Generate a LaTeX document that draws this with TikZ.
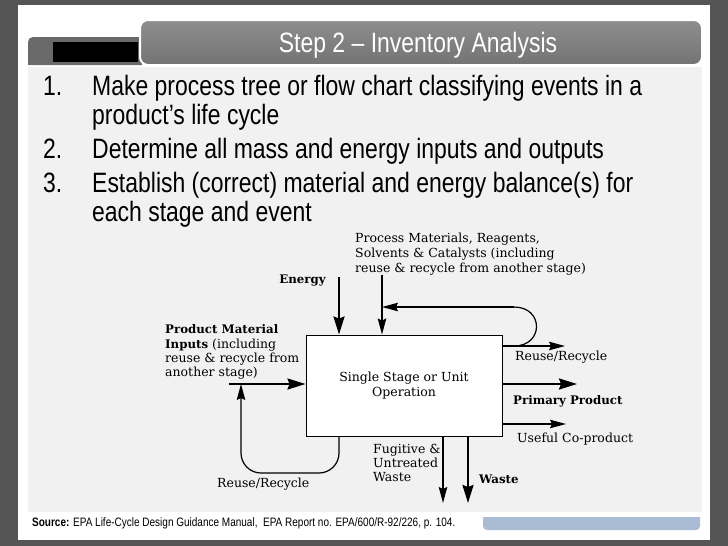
\documentclass[tikz,border=0pt]{standalone}
\usepackage{fontspec}
\setmainfont{DejaVu Serif}
\newfontfamily\narrowsans[FakeStretch=0.82]{Liberation Sans}
\usetikzlibrary{arrows.meta}
\definecolor{framegray}{HTML}{555555}
\definecolor{contentgray}{HTML}{F1F1F1}
\definecolor{barA}{HTML}{8E8E8E}
\definecolor{barB}{HTML}{737373}
\definecolor{tabgray}{HTML}{6A6A6A}
\definecolor{bluebar}{HTML}{A9BCD3}
\newcommand\dfont{\fontsize{12.5}{15}\selectfont}
\newcommand\bfont{\fontsize{11.8}{15}\selectfont\bfseries}
\newcommand\listfont{\narrowsans\fontsize{28}{30}\selectfont}
\tikzset{
  lbl/.style={font=\dfont, inner sep=0pt, anchor=base west},
  blbl/.style={font=\bfont, inner sep=0pt, anchor=base west},
  lstxt/.style={font=\listfont, inner sep=0pt, anchor=base west},
  thickarrow/.style={line width=2.2pt, -{Stealth[length=18pt,width=11pt,inset=2pt]}},
  thinarrow/.style={line width=1.2pt, -{Stealth[length=16pt,width=8.5pt,inset=2pt]}},
  thinline/.style={line width=1.2pt},
}
\begin{document}
\begin{tikzpicture}[x=1pt,y=-1pt]
\useasboundingbox (0,0) rectangle (728,546);
% background
\fill[framegray] (0,0) rectangle (728,546);
\fill[white] (18,5) rectangle (710,540);
\fill[contentgray] (28,67) rectangle (702,512);
\fill[tabgray] (142,65) -- (28,65) [rounded corners=5pt] -- (28,37) [sharp corners] -- (142,37) -- cycle;
\fill[black] (53,42) rectangle (138,62);
\draw[white, line width=2pt, top color=barA, bottom color=barB, rounded corners=8pt] (140,20) rectangle (702,65);
\node[font=\listfont, text=white, inner sep=0pt, anchor=base] (title) at (418,52) {Step 2 – Inventory Analysis};
% list
\node[lstxt] (n1) at (43,95) {1.};
\node[lstxt] (t1a) at (92,95) {Make process tree or flow chart classifying events in a};
\node[lstxt] (t1b) at (92,124) {product’s life cycle};
\node[lstxt] (n2) at (43,158) {2.};
\node[lstxt] (t2) at (92,158) {Determine all mass and energy inputs and outputs};
\node[lstxt] (n3) at (43,192) {3.};
\node[lstxt] (t3a) at (92,192) {Establish (correct) material and energy balance(s) for};
\node[lstxt] (t3b) at (92,221) {each stage and event};
% footer
\node[font=\narrowsans\fontsize{12.2}{13}\selectfont, inner sep=0pt, anchor=base west] (src) at (32,526) {\textbf{Source:} EPA Life-Cycle Design Guidance Manual,\ \ EPA Report no. EPA/600/R-92/226, p. 104.};
\fill[bluebar] (483,517) -- (700,517) [rounded corners=4pt] -- (700,530) -- (483,530) [sharp corners] -- cycle;
% diagram
\node[draw, line width=1pt, fill=white, minimum width=196pt, minimum height=101pt, inner sep=0pt, font=\dfont, align=center] (op) at (404,385.5) {Single Stage or Unit\\Operation};
\coordinate (eTop) at (339,277);
\coordinate (pTop) at (382,275);
\coordinate (rTop) at (514,307);
\coordinate (rBot) at (514,346);
\coordinate (rrEnd) at (565,346);
\coordinate (ppEnd) at (577,384);
\coordinate (cpEnd) at (566,424);
\coordinate (inStart) at (229,384);
\coordinate (lbR) at (339,473);
\coordinate (lbL) at (241,473);
\coordinate (fgEnd) at (443,503);
\coordinate (wsEnd) at (468,503);
\draw[thickarrow] (eTop) -- (eTop |- op.north);
\draw[thinarrow] (pTop) -- (pTop |- op.north);
\draw[thinarrow] (rTop) -- (pTop |- rTop);
\draw[thinline] (rTop) .. controls (544,307) and (544,346) .. (rBot);
\draw[thinarrow] (op.east |- rBot) -- (rrEnd);
\draw[thickarrow] (op.east |- ppEnd) -- (ppEnd);
\draw[thinarrow] (op.east |- cpEnd) -- (cpEnd);
\draw[thickarrow] (inStart) -- (op.west |- inStart);
\draw[thinarrow, rounded corners=20pt] (lbR |- op.south) -- (lbR) -- (lbL) -- (lbL |- inStart);
\draw[thinarrow] (fgEnd |- op.south) -- (fgEnd);
\draw[thickarrow] (wsEnd |- op.south) -- (wsEnd);
% labels
\node[lbl] (pm1) at (355,242) {Process Materials, Reagents,};
\node[lbl] (pm2) at (355,257) {Solvents \& Catalysts (including};
\node[lbl] (pm3) at (355,272) {reuse \& recycle from another stage)};
\node[blbl, anchor=base east] (en) at (326,283) {Energy};
\node[blbl] (in1) at (165,333) {Product Material};
\node[lbl] (in2) at (165,348) {{\bfont Inputs} (including};
\node[lbl] (in3) at (165,362) {reuse \& recycle from};
\node[lbl] (in4) at (165,376) {another stage)};
\node[lbl] (rr) at (515,360) {Reuse/Recycle};
\node[blbl] (pp) at (513,404) {Primary Product};
\node[lbl] (cp) at (517,442) {Useful Co-product};
\node[lbl] (fg1) at (373,453) {Fugitive \&};
\node[lbl] (fg2) at (373,467) {Untreated};
\node[lbl] (fg3) at (373,481) {Waste};
\node[blbl] (ws) at (479,483) {Waste};
\node[lbl] (lr) at (217,487) {Reuse/Recycle};
\end{tikzpicture}
\end{document}
